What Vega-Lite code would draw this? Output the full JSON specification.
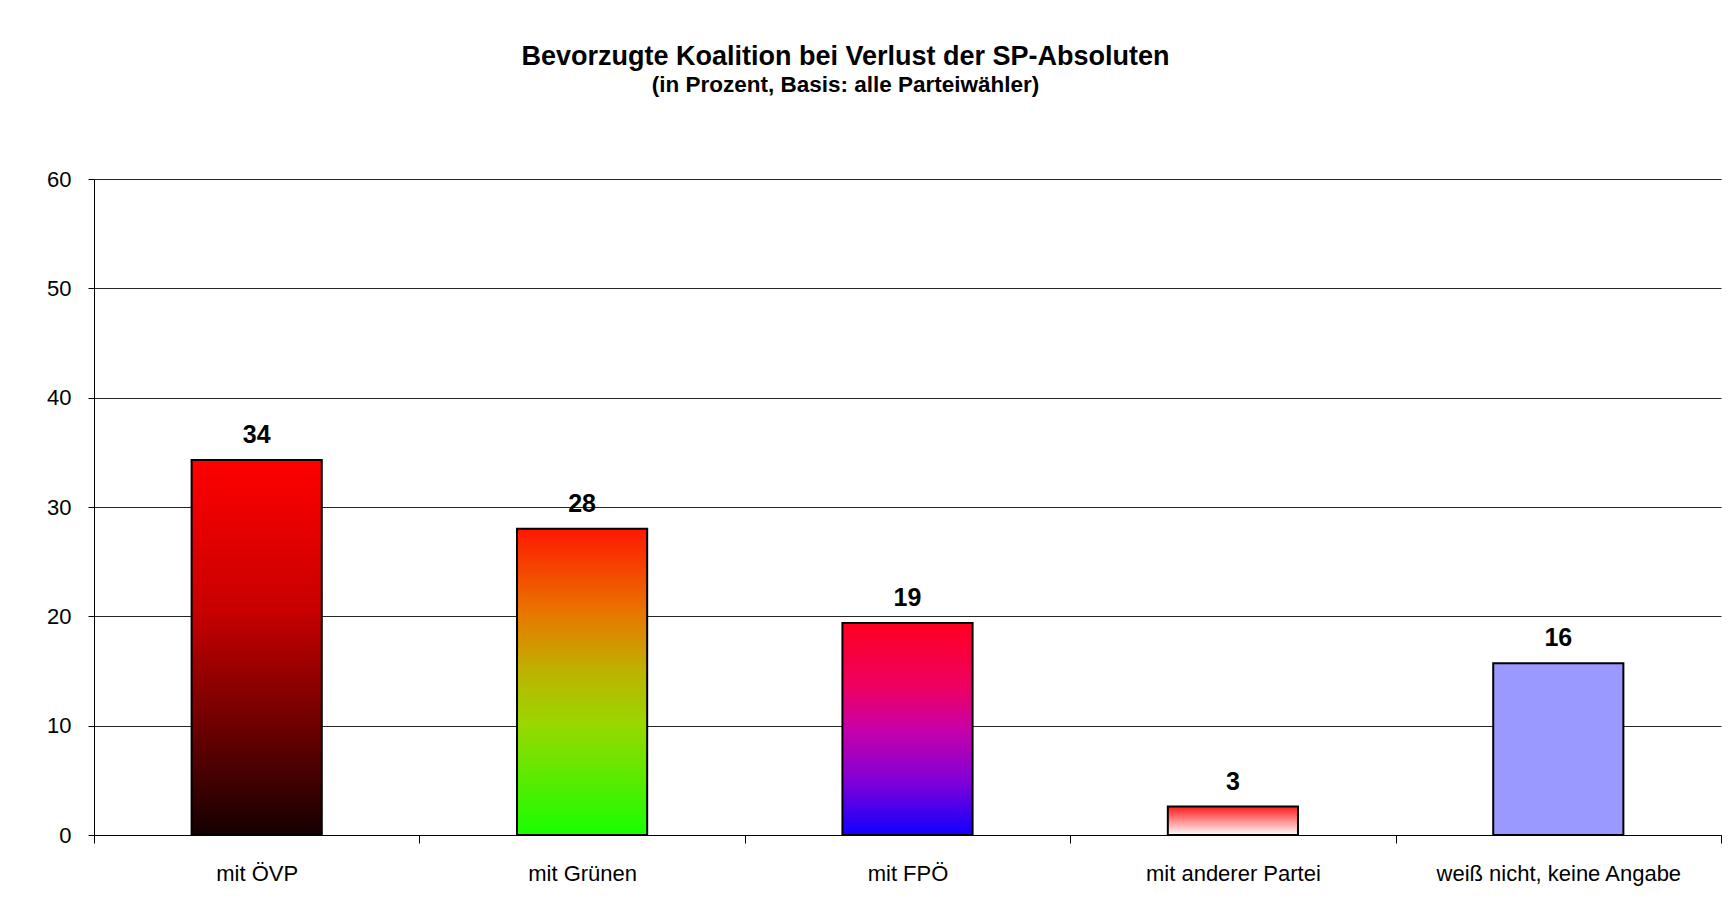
{
  "$schema": "https://vega.github.io/schema/vega-lite/v6.json",
  "width": 1627,
  "height": 656,
  "autosize": {"type": "none"},
  "padding": {"left": 94, "top": 179, "right": 13, "bottom": 81},
  "background": "white",
  "config": {"view": {"stroke": null}, "font": "Liberation Sans"},
  "title": {
    "text": "Bevorzugte Koalition bei Verlust der SP-Absoluten",
    "subtitle": "(in Prozent, Basis: alle Parteiwähler)",
    "font": "Liberation Sans",
    "subtitleFont": "Liberation Sans",
    "fontSize": 27,
    "subtitleFontSize": 22.5,
    "fontWeight": "bold",
    "subtitleFontWeight": "bold",
    "color": "black",
    "subtitleColor": "black",
    "anchor": "middle",
    "frame": "group",
    "dx": -62,
    "offset": 71,
    "subtitlePadding": 3
  },
  "data": {
    "values": [
      {"category": "mit ÖVP", "value": 34.3},
      {"category": "mit Grünen", "value": 28.0},
      {"category": "mit FPÖ", "value": 19.4},
      {"category": "mit anderer Partei", "value": 2.6},
      {"category": "weiß nicht, keine Angabe", "value": 15.7}
    ]
  },
  "encoding": {
    "x": {
      "field": "category",
      "type": "nominal",
      "sort": null,
      "scale": {"paddingInner": 0, "paddingOuter": 0},
      "axis": {
        "title": null,
        "labelAngle": 0,
        "labelLimit": 0,
        "ticks": true,
        "tickBand": "extent",
        "tickExtra": true,
        "tickSize": 8,
        "tickWidth": 1,
        "labelPadding": 20,
        "labelFontSize": 22,
        "labelColor": "black",
        "labelFont": "Liberation Sans",
        "domainColor": "black",
        "tickColor": "black",
        "grid": false
      }
    },
    "y": {
      "field": "value",
      "type": "quantitative",
      "scale": {"domain": [0, 60]},
      "axis": {
        "title": null,
        "values": [0, 10, 20, 30, 40, 50, 60],
        "tickSize": 6,
        "labelPadding": 17,
        "labelFontSize": 22,
        "labelColor": "black",
        "labelFont": "Liberation Sans",
        "domainColor": "black",
        "tickColor": "black",
        "grid": true,
        "gridColor": "black",
        "gridOpacity": 0.85
      }
    }
  },
  "layer": [
    {
      "transform": [{"filter": "datum.category === 'mit ÖVP'"}],
      "mark": {
        "type": "bar",
        "width": {"band": 0.4},
        "stroke": "black",
        "strokeWidth": 2,
        "fill": {
          "gradient": "linear", "x1": 0, "y1": 0, "x2": 0, "y2": 1,
          "stops": [
            {"offset": 0, "color": "#ff0000"},
            {"offset": 0.4, "color": "#c80000"},
            {"offset": 0.7, "color": "#700000"},
            {"offset": 1, "color": "#150000"}
          ]
        }
      }
    },
    {
      "transform": [{"filter": "datum.category === 'mit Grünen'"}],
      "mark": {
        "type": "bar",
        "width": {"band": 0.4},
        "stroke": "black",
        "strokeWidth": 2,
        "fill": {
          "gradient": "linear", "x1": 0, "y1": 0, "x2": 0, "y2": 1,
          "stops": [
            {"offset": 0, "color": "#ff1800"},
            {"offset": 0.28, "color": "#e87800"},
            {"offset": 0.47, "color": "#bcb400"},
            {"offset": 0.64, "color": "#98d800"},
            {"offset": 1, "color": "#18ff00"}
          ]
        }
      }
    },
    {
      "transform": [{"filter": "datum.category === 'mit FPÖ'"}],
      "mark": {
        "type": "bar",
        "width": {"band": 0.4},
        "stroke": "black",
        "strokeWidth": 2,
        "fill": {
          "gradient": "linear", "x1": 0, "y1": 0, "x2": 0, "y2": 1,
          "stops": [
            {"offset": 0, "color": "#ff0020"},
            {"offset": 0.3, "color": "#ee0060"},
            {"offset": 0.5, "color": "#c800a8"},
            {"offset": 0.75, "color": "#8000d8"},
            {"offset": 1, "color": "#1000ff"}
          ]
        }
      }
    },
    {
      "transform": [{"filter": "datum.category === 'mit anderer Partei'"}],
      "mark": {
        "type": "bar",
        "width": {"band": 0.4},
        "stroke": "black",
        "strokeWidth": 2,
        "fill": {
          "gradient": "linear", "x1": 0, "y1": 0, "x2": 0, "y2": 1,
          "stops": [
            {"offset": 0, "color": "#ff1a1a"},
            {"offset": 1, "color": "#ffffff"}
          ]
        }
      }
    },
    {
      "transform": [{"filter": "datum.category === 'weiß nicht, keine Angabe'"}],
      "mark": {"type": "bar", "width": {"band": 0.4}, "stroke": "black", "strokeWidth": 2, "fill": "#9999ff"}
    },
    {
      "mark": {
        "type": "text",
        "fontWeight": "bold",
        "fontSize": 25,
        "dy": -17,
        "baseline": "alphabetic",
        "color": "black",
        "font": "Liberation Sans"
      },
      "encoding": {
        "text": {"field": "value", "type": "quantitative", "format": ".0f"}
      }
    }
  ]
}
